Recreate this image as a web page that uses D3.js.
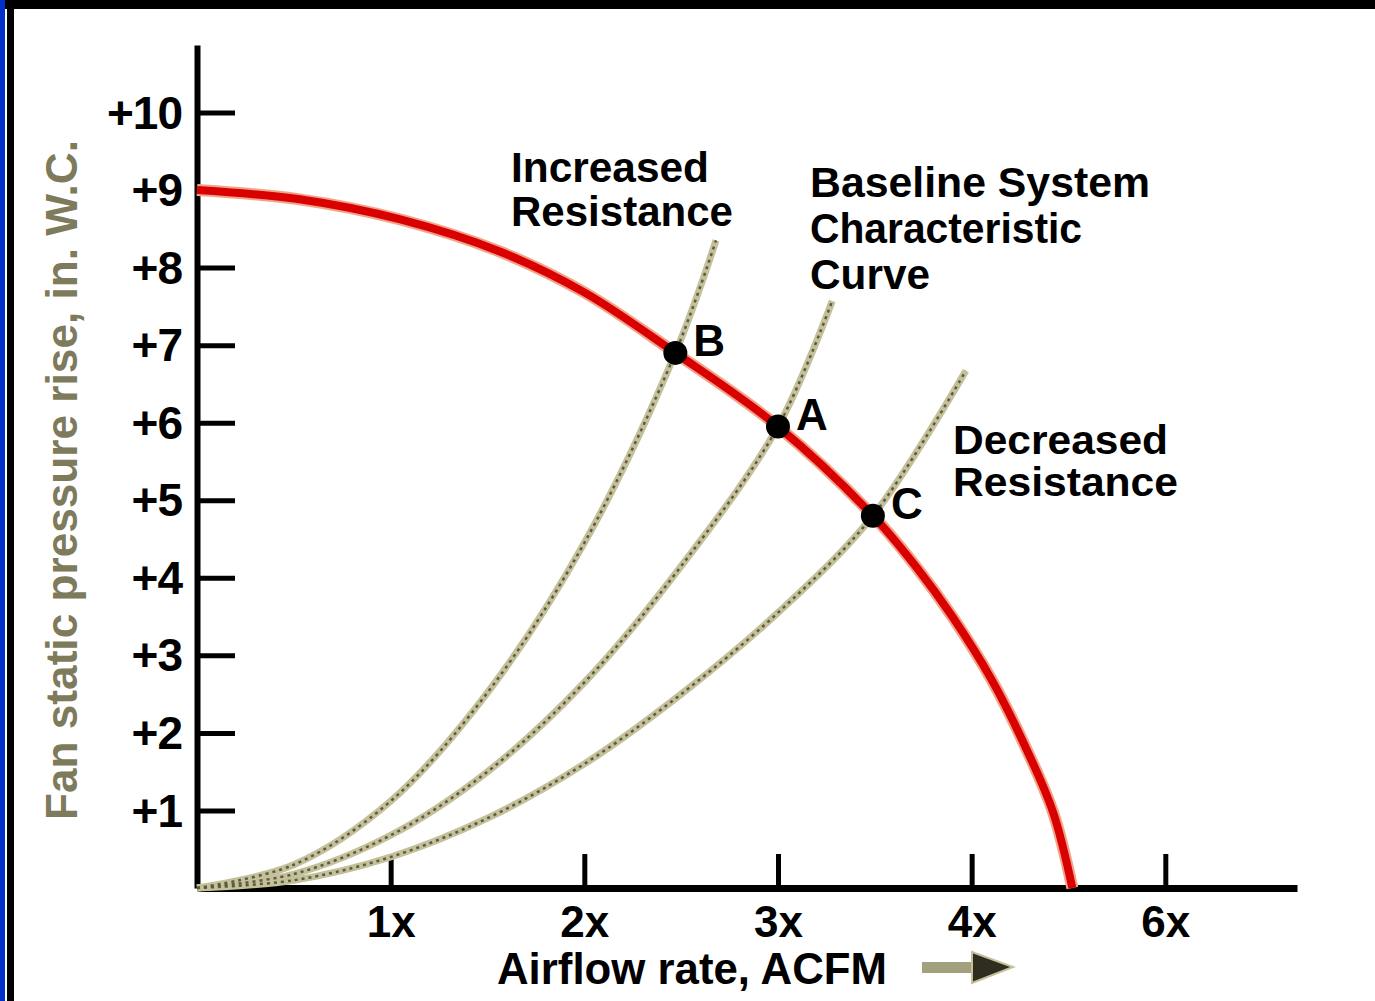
<!DOCTYPE html>
<html>
<head>
<meta charset="utf-8">
<script src="https://cdn.jsdelivr.net/npm/d3@7"></script>
<style>
  body { margin: 0; background: #fff; }
  svg { display: block; }
  text { font-family: 'Liberation Sans', Arial, sans-serif; font-weight: bold; }
</style>
</head>
<body>
<script>
var svgWidth = 1375;
var svgHeight = 1001;

// fan curve (x = airflow in multiples, y = in. W.C.)
var fanX = [0, 0.53, 1.05, 1.57, 2.0, 2.47, 3.0, 3.49, 3.72, 3.9, 4.1, 4.27, 4.42, 4.52];
var fanY = [9.0, 8.88, 8.62, 8.2, 7.68, 6.9, 5.95, 4.8, 4.12, 3.5, 2.7, 1.86, 0.98, 0];

// system curves
var increasedX = [0, 0.5, 1, 1.5, 2, 2.47, 2.68];
var increasedY = [0, 0.3, 1.12, 2.52, 4.45, 6.9, 8.35];
var baselineX = [0, 0.5, 1, 1.5, 2, 2.5, 3, 3.28];
var baselineY = [0, 0.18, 0.68, 1.5, 2.65, 4.15, 5.95, 7.57];
var decreasedX = [0, 0.5, 1, 1.5, 2, 2.5, 3, 3.49, 3.97];
var decreasedY = [0, 0.1, 0.4, 0.9, 1.6, 2.5, 3.55, 4.8, 6.67];

// operating points
var pointNames = ['B', 'A', 'C'];
var pointX = [2.47, 3.0, 3.49];
var pointY = [6.9, 5.95, 4.8];

var xTickValues = [1, 2, 3, 4, 5];
var xTickLabels = ['1x', '2x', '3x', '4x', '6x'];
var yTickValues = [1, 2, 3, 4, 5, 6, 7, 8, 9, 10];
var yTickLabels = ['+1', '+2', '+3', '+4', '+5', '+6', '+7', '+8', '+9', '+10'];

var xTitle = 'Airflow rate, ACFM';
var yTitle = 'Fan static pressure rise, in. W.C.';

var svg = d3.select('body').append('svg')
  .attr('width', svgWidth)
  .attr('height', svgHeight);

// page frame: black bar on top, blue + black strip on the left
svg.append('rect').attr('x', 0).attr('y', 0).attr('width', svgWidth).attr('height', 9).attr('fill', '#000');
svg.append('rect').attr('x', 0).attr('y', 0).attr('width', 5).attr('height', svgHeight).attr('fill', '#0030cc');
svg.append('rect').attr('x', 7).attr('y', 9).attr('width', 7).attr('height', svgHeight).attr('fill', '#000');

var xScale = d3.scaleLinear().domain([0, 5.68]).range([197, 1297]);
var yScale = d3.scaleLinear().domain([0, 10.87]).range([888, 45]);

// axes
var xAxis = d3.axisBottom(xScale)
  .tickValues(xTickValues)
  .tickFormat(function(d, i) { return xTickLabels[i]; })
  .tickSizeInner(-34)
  .tickSizeOuter(0)
  .tickPadding(18);

var gx = svg.append('g')
  .attr('transform', 'translate(0,' + yScale(0) + ')')
  .call(xAxis);
gx.select('.domain').attr('stroke', '#000').attr('stroke-width', 7);
gx.selectAll('.tick line').attr('stroke', '#000').attr('stroke-width', 5);
gx.selectAll('.tick text')
  .attr('fill', '#000')
  .style('font-size', '44px')
  .attr('dy', '0.71em');

var yAxis = d3.axisLeft(yScale)
  .tickValues(yTickValues)
  .tickFormat(function(d, i) { return yTickLabels[i]; })
  .tickSizeInner(-38)
  .tickSizeOuter(0)
  .tickPadding(15);

var gy = svg.append('g')
  .attr('transform', 'translate(' + xScale(0) + ',0)')
  .call(yAxis);
gy.select('.domain').attr('stroke', '#000').attr('stroke-width', 6);
gy.selectAll('.tick line').attr('stroke', '#000').attr('stroke-width', 5);
gy.selectAll('.tick text')
  .attr('fill', '#000')
  .style('font-size', '46px')
  .attr('dy', '0.34em')
  .attr('letter-spacing', -1);

// smooth line through the read-off points
var curveLine = d3.line()
  .x(function(d) { return xScale(d[0]); })
  .y(function(d) { return yScale(d[1]); })
  .curve(d3.curveCatmullRom.alpha(0.5));

var systems = [
  d3.zip(increasedX, increasedY),
  d3.zip(baselineX, baselineY),
  d3.zip(decreasedX, decreasedY)
];

svg.selectAll('.sys-under')
  .data(systems)
  .enter()
  .append('path')
  .attr('d', curveLine)
  .attr('fill', 'none')
  .attr('stroke', '#c4c09a')
  .attr('stroke-width', 7);

svg.selectAll('.sys-over')
  .data(systems)
  .enter()
  .append('path')
  .attr('d', curveLine)
  .attr('fill', 'none')
  .attr('stroke', '#5c5a42')
  .attr('stroke-width', 2.5)
  .attr('stroke-dasharray', '3,4');

// fan curve
var fanData = d3.zip(fanX, fanY);
svg.append('path')
  .attr('d', curveLine(fanData))
  .attr('fill', 'none')
  .attr('stroke', '#f2a48a')
  .attr('stroke-width', 12);
svg.append('path')
  .attr('d', curveLine(fanData))
  .attr('fill', 'none')
  .attr('stroke', '#d80000')
  .attr('stroke-width', 8);

// operating points
svg.selectAll('.op')
  .data(pointNames)
  .enter()
  .append('circle')
  .attr('cx', function(d, i) { return xScale(pointX[i]); })
  .attr('cy', function(d, i) { return yScale(pointY[i]); })
  .attr('r', 12)
  .attr('fill', '#000');

svg.selectAll('.op-label')
  .data(pointNames)
  .enter()
  .append('text')
  .attr('x', function(d, i) { return xScale(pointX[i]) + 18; })
  .attr('y', function(d, i) { return yScale(pointY[i]) + 3; })
  .style('font-size', '44px')
  .attr('fill', '#000')
  .text(function(d) { return d; });

// curve annotations
function addLabel(lines, x, y, lineGap, widths, size) {
  var t = svg.append('text').attr('fill', '#000').style('font-size', size + 'px');
  lines.forEach(function(s, i) {
    t.append('tspan')
      .attr('x', x)
      .attr('y', y + i * lineGap)
      .attr('textLength', widths[i])
      .attr('lengthAdjust', 'spacingAndGlyphs')
      .text(s);
  });
}
addLabel(['Increased', 'Resistance'], 511, 182, 44, [198, 222], 42);
addLabel(['Baseline  System', 'Characteristic', 'Curve'], 810, 197, 46, [340, 272, 120], 42);
addLabel(['Decreased', 'Resistance'], 953, 454, 42, [215, 225], 40);

// axis titles
svg.append('text')
  .attr('x', 497)
  .attr('y', 984)
  .attr('textLength', 390)
  .attr('lengthAdjust', 'spacingAndGlyphs')
  .style('font-size', '44px')
  .attr('fill', '#000')
  .text(xTitle);

// arrow after the x title
svg.append('rect')
  .attr('x', 922).attr('y', 962).attr('width', 62).attr('height', 11)
  .attr('fill', '#a3a07e');
svg.append('path')
  .attr('d', 'M972,952 L1013,967 L972,983 Z')
  .attr('fill', '#2e2d20')
  .attr('stroke', '#c4c09a')
  .attr('stroke-width', 2);

svg.append('text')
  .attr('transform', 'translate(77,480) rotate(-90)')
  .attr('text-anchor', 'middle')
  .attr('textLength', 680)
  .attr('lengthAdjust', 'spacingAndGlyphs')
  .style('font-size', '44px')
  .attr('fill', '#7d7b5c')
  .text(yTitle);
</script>
</body>
</html>
